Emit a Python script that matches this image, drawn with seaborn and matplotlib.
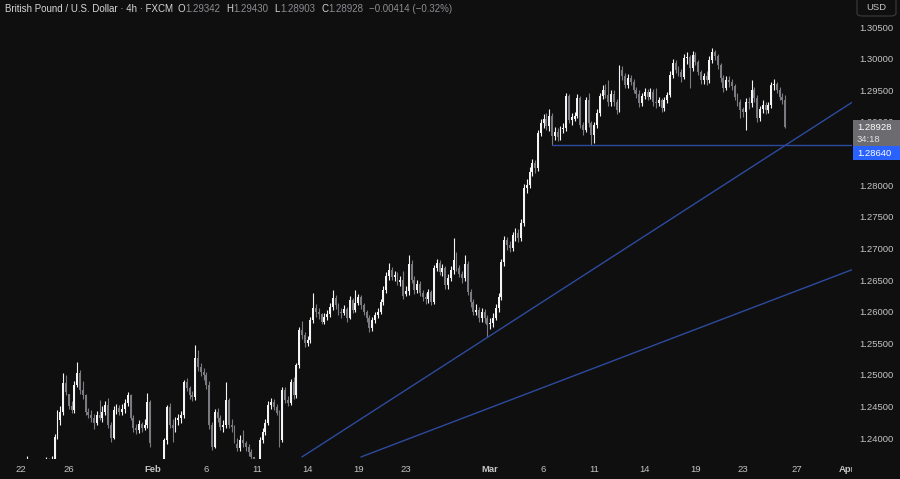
import numpy as np
import pandas as pd
import matplotlib
matplotlib.use("Agg")
import matplotlib.pyplot as plt
import seaborn as sns
from matplotlib.patches import Rectangle, FancyBboxPatch

## GBP/USD 4h candles (FXCM), 19 Jan - 26 Mar 2025, one line per trading day

closes = [
    1.2205,
    1.2215, 1.2230, 1.2262, 1.2318, 1.2345, 1.2335,
    1.2310, 1.2290, 1.2300, 1.2335, 1.2350, 1.2345,
    1.2340, 1.2350, 1.2358, 1.2335, 1.2320, 1.2325,
    1.2330, 1.2315, 1.2340, 1.2355, 1.2348, 1.2362,
    1.2402, 1.2428, 1.2441, 1.2487, 1.2473,
    1.2451,
    1.2444, 1.2484, 1.2503, 1.2476, 1.2468, 1.2441,
    1.2437, 1.2432, 1.2424, 1.2436, 1.2432, 1.2441,
    1.2452, 1.2421, 1.2400, 1.2444, 1.2448, 1.2441,
    1.2446, 1.2455, 1.2468, 1.2432, 1.2416, 1.2413,
    1.2422, 1.2416, 1.2421, 1.2457, 1.2392,
    1.2330,
    1.2290, 1.2310, 1.2345, 1.2397, 1.2449, 1.2421,
    1.2416, 1.2428, 1.2432, 1.2436, 1.2489, 1.2479,
    1.2468, 1.2465, 1.2527, 1.2512, 1.2504, 1.2500,
    1.2484, 1.2421, 1.2386, 1.2441, 1.2432, 1.2417,
    1.2421, 1.2460, 1.2421, 1.2417, 1.2397,
    1.2384,
    1.2397, 1.2392, 1.2386, 1.2378, 1.2370, 1.2350,
    1.2345, 1.2397, 1.2409, 1.2424, 1.2452, 1.2457,
    1.2449, 1.2440, 1.2397, 1.2476, 1.2460, 1.2455,
    1.2489, 1.2468, 1.2516, 1.2571, 1.2563, 1.2550,
    1.2555, 1.2587, 1.2606, 1.2599, 1.2596,
    1.2584,
    1.2592, 1.2596, 1.2607, 1.2622, 1.2610, 1.2599,
    1.2598, 1.2604, 1.2590, 1.2618, 1.2603, 1.2614,
    1.2623, 1.2610, 1.2599, 1.2590, 1.2574, 1.2587,
    1.2595, 1.2599, 1.2615, 1.2634, 1.2656, 1.2666,
    1.2655, 1.2658, 1.2647, 1.2650, 1.2625,
    1.2632,
    1.2675, 1.2650, 1.2634, 1.2644, 1.2630, 1.2623,
    1.2620, 1.2631, 1.2615, 1.2669, 1.2677, 1.2663,
    1.2669, 1.2642, 1.2653, 1.2666, 1.2682, 1.2669,
    1.2659, 1.2653, 1.2675, 1.2631, 1.2615, 1.2599,
    1.2603, 1.2590, 1.2599, 1.2590, 1.2579,
    1.2582,
    1.2590, 1.2606, 1.2623, 1.2678, 1.2713, 1.2705,
    1.2700, 1.2721, 1.2724, 1.2716, 1.2740, 1.2796,
    1.2800, 1.2821, 1.2835, 1.2827, 1.2883, 1.2898,
    1.2905, 1.2894, 1.2910, 1.2878, 1.2884, 1.2876,
    1.2889, 1.2891, 1.2941, 1.2903, 1.2908,
    1.2910,
    1.2938, 1.2895, 1.2887, 1.2935, 1.2898, 1.2879,
    1.2895, 1.2914, 1.2941, 1.2951, 1.2943, 1.2932,
    1.2945, 1.2932, 1.2919, 1.2982, 1.2973, 1.2959,
    1.2970, 1.2964, 1.2951, 1.2944, 1.2930, 1.2941,
    1.2948, 1.2940, 1.2948, 1.2932, 1.2930,
    1.2935,
    1.2922, 1.2935, 1.2943, 1.2975, 1.2994, 1.2983,
    1.2979, 1.2971, 1.3002, 1.3003, 1.2985, 1.3006,
    1.2995, 1.2979, 1.2966, 1.2973, 1.2966, 1.2998,
    1.3011, 1.3004, 1.2990, 1.2970, 1.2954, 1.2966,
    1.2963, 1.2957, 1.2940, 1.2932, 1.2919,
    1.2916,
    1.2932, 1.2930, 1.2951, 1.2938, 1.2906, 1.2921,
    1.2927, 1.2919, 1.2927, 1.2959, 1.2960, 1.2951,
    1.2940, 1.29342, 1.28928,
]

highs = [
    1.2212,
    1.2224, 1.2238, 1.2270, 1.2335, 1.2352, 1.2350,
    1.2340, 1.2315, 1.2310, 1.2344, 1.2358, 1.2355,
    1.2352, 1.2360, 1.2372, 1.2362, 1.2340, 1.2332,
    1.2338, 1.2335, 1.2348, 1.2370, 1.2368, 1.2372,
    1.2406, 1.2444, 1.2450, 1.2503, 1.2500,
    1.2470,
    1.2458, 1.2490, 1.2521, 1.2508, 1.2490, 1.2470,
    1.2448, 1.2444, 1.2438, 1.2442, 1.2460, 1.2450,
    1.2458, 1.2463, 1.2426, 1.2450, 1.2454, 1.2452,
    1.2454, 1.2462, 1.2473, 1.2470, 1.2436, 1.2422,
    1.2428, 1.2426, 1.2430, 1.2471, 1.2460,
    1.2345,
    1.2335, 1.2320, 1.2352, 1.2400, 1.2452, 1.2455,
    1.2430, 1.2434, 1.2438, 1.2442, 1.2492, 1.2495,
    1.2482, 1.2474, 1.2547, 1.2540, 1.2518, 1.2510,
    1.2504, 1.2490, 1.2426, 1.2446, 1.2448, 1.2436,
    1.2428, 1.2489, 1.2464, 1.2430, 1.2420,
    1.2400,
    1.2404, 1.2413, 1.2396, 1.2390, 1.2382, 1.2366,
    1.2362, 1.2402, 1.2416, 1.2430, 1.2458, 1.2464,
    1.2462, 1.2454, 1.2444, 1.2481, 1.2480, 1.2466,
    1.2494, 1.2496, 1.2519, 1.2576, 1.2585, 1.2568,
    1.2562, 1.2592, 1.2629, 1.2612, 1.2606,
    1.2598,
    1.2598, 1.2602, 1.2614, 1.2634, 1.2626, 1.2614,
    1.2606, 1.2610, 1.2608, 1.2624, 1.2622, 1.2634,
    1.2628, 1.2626, 1.2614, 1.2602, 1.2594, 1.2592,
    1.2600, 1.2606, 1.2620, 1.2640, 1.2662, 1.2677,
    1.2670, 1.2664, 1.2662, 1.2656, 1.2664,
    1.2640,
    1.2690, 1.2682, 1.2656, 1.2650, 1.2648, 1.2634,
    1.2630, 1.2636, 1.2634, 1.2674, 1.2684, 1.2682,
    1.2676, 1.2672, 1.2660, 1.2672, 1.2716, 1.2694,
    1.2674, 1.2664, 1.2690, 1.2680, 1.2636, 1.2620,
    1.2612, 1.2608, 1.2606, 1.2604, 1.2594,
    1.2590,
    1.2598, 1.2612, 1.2630, 1.2684, 1.2720, 1.2718,
    1.2712, 1.2726, 1.2732, 1.2730, 1.2746, 1.2802,
    1.2810, 1.2828, 1.2842, 1.2840, 1.2888, 1.2905,
    1.2912, 1.2914, 1.2920, 1.2914, 1.2892, 1.2890,
    1.2894, 1.2898, 1.2946, 1.2944, 1.2914,
    1.2916,
    1.2944, 1.2941, 1.2900, 1.2940, 1.2946, 1.2902,
    1.2900, 1.2920, 1.2946, 1.2958, 1.2960, 1.2966,
    1.2950, 1.2950, 1.2936, 1.2990, 1.2988, 1.2978,
    1.2976, 1.2974, 1.2968, 1.2956, 1.2950, 1.2946,
    1.2954, 1.2952, 1.2954, 1.2952, 1.2954,
    1.2940,
    1.2938, 1.2940, 1.2948, 1.2980, 1.3000, 1.2998,
    1.2988, 1.2984, 1.3008, 1.3010, 1.3006, 1.3012,
    1.3010, 1.2998, 1.2982, 1.2978, 1.2980, 1.3004,
    1.3017, 1.3014, 1.3008, 1.2994, 1.2974, 1.2972,
    1.2972, 1.2968, 1.2960, 1.2946, 1.2936,
    1.2924,
    1.2938, 1.2940, 1.2966, 1.2956, 1.2942, 1.2926,
    1.2934, 1.2932, 1.2932, 1.2964, 1.2968, 1.2964,
    1.2956, 1.2946, 1.29430,
]

lows = [
    1.2195,
    1.2198, 1.2210, 1.2226, 1.2255, 1.2310, 1.2326,
    1.2302, 1.2282, 1.2284, 1.2296, 1.2330, 1.2338,
    1.2332, 1.2336, 1.2346, 1.2328, 1.2312, 1.2316,
    1.2318, 1.2306, 1.2310, 1.2336, 1.2340, 1.2344,
    1.2358, 1.2398, 1.2420, 1.2436, 1.2468,
    1.2446,
    1.2440, 1.2440, 1.2480, 1.2470, 1.2462, 1.2436,
    1.2432, 1.2426, 1.2415, 1.2420, 1.2428, 1.2426,
    1.2436, 1.2416, 1.2394, 1.2398, 1.2438, 1.2436,
    1.2436, 1.2440, 1.2450, 1.2428, 1.2410, 1.2406,
    1.2408, 1.2410, 1.2412, 1.2416, 1.2386,
    1.2300,
    1.2250, 1.2270, 1.2300, 1.2340, 1.2390, 1.2416,
    1.2394, 1.2410, 1.2420, 1.2424, 1.2432, 1.2474,
    1.2462, 1.2458, 1.2460, 1.2506, 1.2498, 1.2492,
    1.2478, 1.2414, 1.2381, 1.2384, 1.2426, 1.2412,
    1.2410, 1.2416, 1.2416, 1.2410, 1.2392,
    1.2380,
    1.2380, 1.2386, 1.2380, 1.2372, 1.2364, 1.2334,
    1.2336, 1.2340, 1.2392, 1.2404, 1.2420, 1.2446,
    1.2444, 1.2436, 1.2386, 1.2394, 1.2455, 1.2450,
    1.2452, 1.2462, 1.2464, 1.2510, 1.2556, 1.2544,
    1.2545, 1.2550, 1.2582, 1.2592, 1.2588,
    1.2580,
    1.2580, 1.2586, 1.2592, 1.2602, 1.2604, 1.2594,
    1.2590, 1.2594, 1.2584, 1.2588, 1.2598, 1.2600,
    1.2610, 1.2604, 1.2594, 1.2584, 1.2568, 1.2570,
    1.2582, 1.2590, 1.2596, 1.2610, 1.2630, 1.2650,
    1.2650, 1.2648, 1.2642, 1.2640, 1.2620,
    1.2624,
    1.2626, 1.2646, 1.2628, 1.2630, 1.2624, 1.2616,
    1.2612, 1.2614, 1.2610, 1.2612, 1.2664, 1.2658,
    1.2656, 1.2636, 1.2636, 1.2648, 1.2660, 1.2664,
    1.2654, 1.2646, 1.2648, 1.2626, 1.2608, 1.2594,
    1.2594, 1.2584, 1.2584, 1.2582, 1.2560,
    1.2572,
    1.2576, 1.2586, 1.2600, 1.2618, 1.2672, 1.2698,
    1.2694, 1.2696, 1.2712, 1.2710, 1.2712, 1.2736,
    1.2788, 1.2796, 1.2814, 1.2820, 1.2822, 1.2878,
    1.2890, 1.2888, 1.2886, 1.2864, 1.2872, 1.2870,
    1.2872, 1.2882, 1.2886, 1.2898, 1.2896,
    1.2902,
    1.2906, 1.2890, 1.2880, 1.2884, 1.2892, 1.2864,
    1.2866, 1.2890, 1.2910, 1.2936, 1.2938, 1.2926,
    1.2926, 1.2926, 1.2912, 1.2916, 1.2966, 1.2954,
    1.2954, 1.2958, 1.2946, 1.2938, 1.2924, 1.2926,
    1.2936, 1.2934, 1.2936, 1.2926, 1.2922,
    1.2926,
    1.2916, 1.2918, 1.2930, 1.2940, 1.2970, 1.2978,
    1.2972, 1.2964, 1.2968, 1.2992, 1.2954, 1.2980,
    1.2990, 1.2974, 1.2960, 1.2960, 1.2958, 1.2962,
    1.2994, 1.2998, 1.2984, 1.2964, 1.2948, 1.2950,
    1.2956, 1.2950, 1.2934, 1.2926, 1.2906,
    1.2908,
    1.2887, 1.2920, 1.2924, 1.2932, 1.2900, 1.2902,
    1.2914, 1.2912, 1.2914, 1.2922, 1.2950, 1.2946,
    1.2934, 1.2928, 1.28903,
]

# the market reopens on Sunday evening with a gap, other bars open at the previous close
week_open_dates = ['2025-01-19', '2025-01-26', '2025-02-02', '2025-02-09', '2025-02-16',
                   '2025-02-23', '2025-03-02', '2025-03-09', '2025-03-16', '2025-03-23']
week_opens = [1.2200, 1.2470, 1.2340, 1.2390, 1.2596, 1.2628, 1.2580, 1.2905, 1.2930, 1.2920]

# drawings
support = 1.28640
support_start = '2025-03-06 14:00'
trend1_dates = ['2025-02-13 18:00', '2025-03-26 10:00']
trend1_prices = [1.2370, 1.2863]
trend2_dates = ['2025-02-19 06:00', '2025-03-26 10:00']
trend2_prices = [1.2370, 1.2626]

tick_dates = ['2025-01-22', '2025-01-26', '2025-02-02', '2025-02-06', '2025-02-11', '2025-02-14',
              '2025-02-19', '2025-02-23', '2025-03-02', '2025-03-06', '2025-03-11', '2025-03-14',
              '2025-03-19', '2025-03-23', '2025-03-27', '2025-04-01']
tick_labels = ['22', '26', 'Feb', '6', '11', '14', '19', '23', 'Mar', '6', '11', '14', '19', '23', '27', 'Apr']
# 1.28500 sits behind the price tags, so it is left out
price_ticks = [1.240, 1.245, 1.250, 1.255, 1.260, 1.265, 1.270, 1.275, 1.280, 1.290,
               1.295, 1.300, 1.305]
countdown = '34:18'

assert len(closes) == len(highs) == len(lows), (len(closes), len(highs), len(lows))

bg = '#0f0f0f'
up_col = '#f4f4f4'
down_col = '#7a7a80'
line_col = '#2d4a9e'
text_col = '#c4c4c4'
val_col = '#8c8c92'

sns.set_theme(style='dark', rc={'axes.facecolor': bg, 'figure.facecolor': bg,
                                'axes.grid': False, 'savefig.facecolor': bg})
plt.rcParams['font.family'] = ['Liberation Sans', 'DejaVu Sans']

# 4h bar clock, weekends removed
times = pd.date_range('2025-01-19 22:00', '2025-04-02 22:00', freq='4h')
dow, hr = times.dayofweek, times.hour
times = times[~((dow == 5) | ((dow == 4) & (hr >= 22)) | ((dow == 6) & (hr < 22)))]


def bar_index(stamp):
    return int(np.searchsorted(times, pd.Timestamp(stamp)))


closes = np.array(closes)
opens = np.r_[np.nan, closes[:-1]]
for d, o in zip(week_open_dates, week_opens):
    opens[bar_index(d)] = o
highs = np.maximum(np.array(highs), np.maximum(opens, closes))
lows = np.minimum(np.array(lows), np.minimum(opens, closes))
x = np.arange(len(closes))

fig = plt.figure(figsize=(9, 4.79), dpi=100)
ax = fig.add_axes([0, 20 / 479, 852 / 900, 459 / 479])

col = np.where(closes >= opens, up_col, down_col)
body_lo = np.minimum(opens, closes)
body_h = np.maximum(np.abs(closes - opens), 0.00006)
ax.vlines(x, lows, highs, colors=col, lw=0.8, zorder=2)
ax.bar(x, body_h, bottom=body_lo, width=0.68, color=col, linewidth=0, zorder=3)

# trend lines, extended to the right
far = len(times) + 20
for dates, prices in [(trend1_dates, trend1_prices), (trend2_dates, trend2_prices)]:
    b0, b1 = bar_index(dates[0]), bar_index(dates[1])
    slope = (prices[1] - prices[0]) / (b1 - b0)
    sns.lineplot(x=[b0, far], y=[prices[0], prices[0] + slope * (far - b0)],
                 color=line_col, lw=1.0, ax=ax, zorder=4)
sns.lineplot(x=[bar_index(support_start), far], y=[support, support],
             color=line_col, lw=1.0, ax=ax, zorder=4)

ax.set_xlim(5.55, 308.75)
ax.set_ylim(1.23668, 1.30930)
for s in ax.spines.values():
    s.set_visible(False)

ax.set_xticks([bar_index(d) for d in tick_dates])
ax.set_xticklabels(tick_labels)
for lab in ax.get_xticklabels():
    if not lab.get_text().isdigit():
        lab.set_fontweight('bold')
ax.tick_params(axis='x', length=0, pad=4, labelsize=6.8, labelcolor=text_col)
ax.yaxis.tick_right()
ax.set_yticks(price_ticks)
ax.set_yticklabels([f'{p:.5f}' for p in price_ticks])
ax.tick_params(axis='y', length=0, pad=5.5, labelsize=6.8, labelcolor=text_col)
ax.set_xlabel('')
ax.set_ylabel('')

# price axis corner cover (clips the last date label)
fig.add_artist(Rectangle((852 / 900, 0), 48 / 900, 19 / 479, transform=fig.transFigure,
                         facecolor=bg, edgecolor='none', zorder=5))

# price labels on the scale
fig.add_artist(Rectangle((853 / 900, 1 - 146 / 479), 47 / 900, 26 / 479, transform=fig.transFigure,
                         facecolor='#6c6c70', edgecolor='none', zorder=6))
fig.text(857 / 900, 1 - 127 / 479, f'{closes[-1]:.5f}', color='white', fontsize=6.8,
         va='center', ha='left', zorder=7)
fig.text(857 / 900, 1 - 139 / 479, countdown, color='#e0e0e0', fontsize=6.8,
         va='center', ha='left', zorder=7)
fig.add_artist(Rectangle((853 / 900, 1 - 160 / 479), 47 / 900, 14 / 479, transform=fig.transFigure,
                         facecolor='#2962ff', edgecolor='none', zorder=6))
fig.text(857 / 900, 1 - 153 / 479, f'{support:.5f}', color='white', fontsize=6.8,
         va='center', ha='left', zorder=7)

# currency button
fig.add_artist(FancyBboxPatch((857 / 900, 1 - 16 / 479), 39 / 900, 22 / 479,
                              boxstyle='round,pad=0,rounding_size=0.006', transform=fig.transFigure,
                              facecolor=bg, edgecolor='#3c3c3c', lw=0.8, zorder=6))
fig.text(876 / 900, 1 - 8 / 479, 'USD', color=text_col, fontsize=6.8, va='center', ha='center', zorder=7)

# header with OHLC values of the last bar
o, h, l, c = opens[-1], highs[-1], lows[-1], closes[-1]
chg = c - closes[-2]
parts = [('British Pound / U.S. Dollar \u00b7 4h \u00b7 FXCM', '#d6d6d6', 5),
         ('O', '#d6d6d6', 0), (f'{o:.5f}', val_col, 6),
         ('H', '#d6d6d6', 0), (f'{h:.5f}', val_col, 6),
         ('L', '#d6d6d6', 0), (f'{l:.5f}', val_col, 6),
         ('C', '#d6d6d6', 0), (f'{c:.5f}', val_col, 6),
         (f'\u2212{abs(chg):.5f} (\u2212{abs(chg) / closes[-2] * 100:.2f}%)', val_col, 0)]
renderer = fig.canvas.get_renderer()
px = 5
for txt, colr, gap in parts:
    t = fig.text(px / 900, 1 - 9 / 479, txt, color=colr, fontsize=7.0, va='center', ha='left')
    px += t.get_window_extent(renderer=renderer).width + gap

fig.savefig('out.png', dpi=100, facecolor=bg)
